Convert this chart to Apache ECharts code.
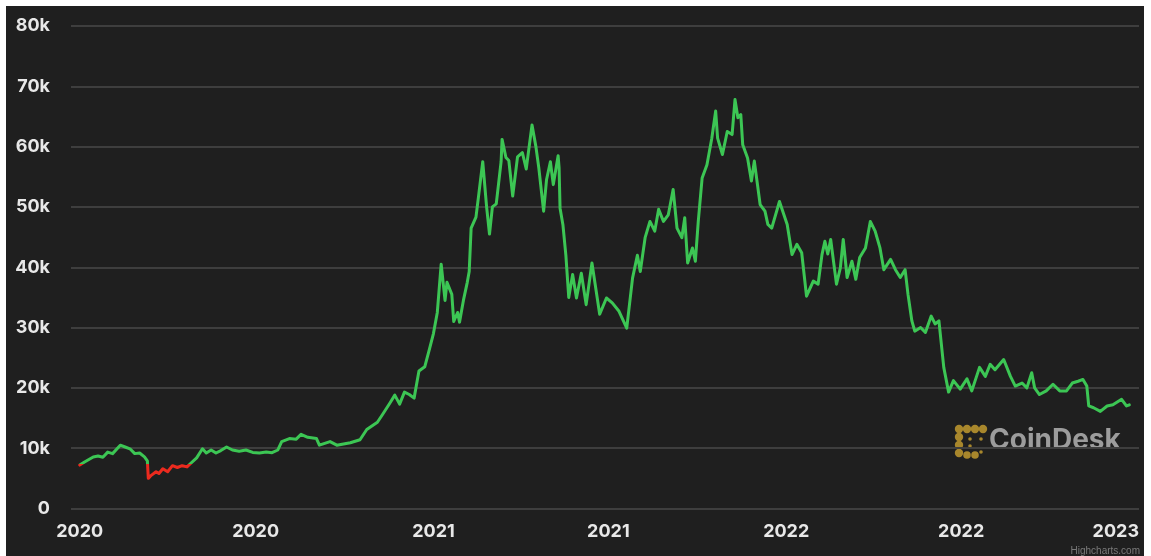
<!DOCTYPE html>
<html>
<head>
<meta charset="utf-8">
<script src="https://cdn.jsdelivr.net/npm/echarts@6/dist/echarts.min.js"></script>
<style>
  html, body { margin: 0; padding: 0; background: #ffffff; width: 1151px; height: 556px; overflow: hidden; }
  #chart { position: absolute; left: 6px; top: 6px; width: 1138px; height: 550px; }
</style>
</head>
<body>
<div id="chart"></div>
<script>
// Approximate BTC price readings (USD)
const dates = [
  '2020-01-01','2020-01-06','2020-01-15','2020-01-20','2020-01-25','2020-01-30','2020-02-04','2020-02-12','2020-02-17','2020-02-22',
  '2020-02-27','2020-03-03','2020-03-08','2020-03-11','2020-03-12','2020-03-15','2020-03-20','2020-03-23','2020-03-27','2020-04-01',
  '2020-04-06','2020-04-11','2020-04-16','2020-04-21','2020-04-25','2020-05-01','2020-05-07','2020-05-11','2020-05-16','2020-05-21',
  '2020-05-26','2020-06-01','2020-06-07','2020-06-14','2020-06-21','2020-06-28','2020-07-05','2020-07-12','2020-07-18','2020-07-24',
  '2020-07-28','2020-08-05','2020-08-12','2020-08-17','2020-08-24','2020-09-02','2020-09-05','2020-09-16','2020-09-23','2020-10-07',
  '2020-10-17','2020-10-24','2020-11-04','2020-11-09','2020-11-17','2020-11-22','2020-11-27','2020-12-02','2020-12-07','2020-12-12',
  '2020-12-17','2020-12-23','2020-12-28','2021-01-01','2021-01-05','2021-01-09','2021-01-13','2021-01-15','2021-01-20','2021-01-22',
  '2021-01-26','2021-01-28','2021-02-01','2021-02-05','2021-02-07','2021-02-09','2021-02-14','2021-02-17','2021-02-21','2021-02-25',
  '2021-02-28','2021-03-03','2021-03-07','2021-03-12','2021-03-13','2021-03-17','2021-03-20','2021-03-24','2021-03-29','2021-04-03',
  '2021-04-07','2021-04-13','2021-04-17','2021-04-20','2021-04-25','2021-04-28','2021-05-02','2021-05-05','2021-05-10','2021-05-11',
  '2021-05-12','2021-05-15','2021-05-18','2021-05-21','2021-05-25','2021-05-29','2021-06-03','2021-06-08','2021-06-14','2021-06-22',
  '2021-06-29','2021-07-05','2021-07-12','2021-07-20','2021-07-26','2021-07-31','2021-08-03','2021-08-08','2021-08-13','2021-08-18',
  '2021-08-22','2021-08-27','2021-09-01','2021-09-06','2021-09-10','2021-09-15','2021-09-18','2021-09-21','2021-09-26','2021-09-29',
  '2021-10-02','2021-10-06','2021-10-11','2021-10-16','2021-10-20','2021-10-22','2021-10-27','2021-11-01','2021-11-06','2021-11-09',
  '2021-11-12','2021-11-15','2021-11-17','2021-11-22','2021-11-26','2021-11-29','2021-12-05','2021-12-10','2021-12-13','2021-12-17',
  '2021-12-25','2022-01-02','2022-01-07','2022-01-12','2022-01-17','2022-01-22','2022-01-29','2022-02-03','2022-02-07','2022-02-10',
  '2022-02-13','2022-02-16','2022-02-22','2022-02-26','2022-03-01','2022-03-05','2022-03-10','2022-03-14','2022-03-18','2022-03-24',
  '2022-03-29','2022-04-03','2022-04-08','2022-04-12','2022-04-19','2022-04-24','2022-04-29','2022-05-04','2022-05-07','2022-05-11',
  '2022-05-14','2022-05-20','2022-05-25','2022-05-31','2022-06-04','2022-06-08','2022-06-13','2022-06-18','2022-06-23','2022-06-30',
  '2022-07-07','2022-07-12','2022-07-20','2022-07-26','2022-07-31','2022-08-05','2022-08-14','2022-08-21','2022-08-26','2022-09-02',
  '2022-09-07','2022-09-12','2022-09-15','2022-09-20','2022-09-27','2022-10-04','2022-10-11','2022-10-18','2022-10-24','2022-10-30',
  '2022-11-04','2022-11-08','2022-11-10','2022-11-15','2022-11-22','2022-11-29','2022-12-05','2022-12-14','2022-12-19','2022-12-22'
];
const prices = [
  7200,7700,8550,8700,8500,9350,9100,10500,10200,9900,
  9100,9200,8550,7900,5000,5500,6100,5800,6600,6100,
  7100,6800,7100,6900,7500,8400,9900,9200,9700,9200,
  9600,10200,9700,9500,9700,9300,9200,9350,9250,9700,
  11100,11600,11500,12300,11800,11600,10500,11100,10500,10900,
  11400,13100,14300,15500,17500,18800,17300,19300,18900,18300,
  22800,23500,26500,29000,32500,40500,34500,37500,35500,31000,
  32500,30900,34500,37500,39300,46500,48300,52200,57500,50000,
  45500,50000,50500,57500,61200,58200,57700,51800,58300,59000,
  56300,63600,60000,56500,49300,54500,57500,53700,58500,56500,
  49800,47000,42000,35000,38800,34900,39000,33800,40700,32200,
  34900,34100,32700,29900,38200,42000,39300,44900,47600,46000,
  49600,47600,48700,52900,46500,44900,48200,40700,43200,41000,
  47600,54800,57000,61400,65900,61400,58700,62500,62000,67800,
  64800,65300,60300,58100,54300,57600,50400,49300,47100,46500,
  50900,47100,42100,43800,42400,35200,37700,37200,42100,44300,
  42200,44600,37200,39900,44600,38300,41000,38000,41600,43200,
  47600,46000,43200,39600,41300,39600,38300,39600,35500,31100,
  29400,30000,29200,31900,30600,31100,23400,19300,21200,19800,
  21500,19500,23400,21900,23900,23000,24700,21900,20300,20800,
  20000,22500,20000,18900,19500,20600,19500,19500,20800,21100,
  21400,20300,17000,16700,16100,17000,17200,18100,17000,17200
];
const tickDates = ['2020-01-01','2020-07-01','2021-01-01','2021-07-01','2022-01-01','2022-07-01','2023-01-01'];
const axisStart = '2019-12-23';
const axisEnd = '2023-01-01';
const yTicks = { min: 0, max: 80000, interval: 10000 };
const redBelow = 7300;

// dates -> day numbers on a linear value axis
const DAY = 86400000;
const epoch = Date.UTC(2020, 0, 1);
const toDay = s => { const p = s.split('-').map(Number); return Math.round((Date.UTC(p[0], p[1] - 1, p[2]) - epoch) / DAY); };
const dayToYear = d => new Date(epoch + d * DAY).getUTCFullYear();
const series = dates.map((d, i) => [toDay(d), prices[i]]);
const tickDays = tickDates.map(toDay);

const chart = echarts.init(document.getElementById('chart'));
const gold = '#a8872c';
const logoDots = [
  [953, 423, 4.2], [961, 423, 4.2], [969, 423, 4.2], [977, 423, 4.2],
  [953, 431, 4.2], [953, 439, 4.2], [953, 447, 4.2],
  [961, 449, 3.8], [969, 449, 3.8],
  [964, 433, 1.8], [964, 440, 1.8], [975, 433, 1.8], [975, 446, 1.8]
];
chart.setOption({
  animation: false,
  backgroundColor: '#1f1f1f',
  grid: { left: 65, right: 5, top: 20, bottom: 47.5, containLabel: false },
  xAxis: {
    type: 'value',
    min: toDay(axisStart),
    max: toDay(axisEnd),
    axisLine: { show: false },
    axisTick: { show: false },
    splitLine: { show: false },
    axisLabel: {
      customValues: tickDays,
      color: '#e8e8e8',
      fontFamily: 'Inter',
      fontWeight: 700,
      fontSize: 18,
      margin: 14,
      alignMaxLabel: 'right',
      formatter: function (v) { return String(dayToYear(v)); }
    }
  },
  yAxis: {
    type: 'value',
    min: yTicks.min,
    max: yTicks.max,
    interval: yTicks.interval,
    axisLine: { show: false },
    axisTick: { show: false },
    splitLine: { lineStyle: { color: '#3e3e3e', width: 2 } },
    axisLabel: {
      color: '#e8e8e8',
      fontFamily: 'Inter',
      fontWeight: 700,
      fontSize: 18,
      margin: 21,
      formatter: function (v) { return v === 0 ? '0' : (v / 1000) + 'k'; }
    }
  },
  visualMap: {
    show: false,
    type: 'piecewise',
    dimension: 1,
    seriesIndex: 0,
    pieces: [
      { gte: 0, lt: redBelow, color: '#ec2a1e' },
      { gte: redBelow, lte: 100000, color: '#3cc654' }
    ]
  },
  series: [{
    type: 'line',
    data: series,
    showSymbol: false,
    symbol: 'none',
    lineStyle: { width: 3, join: 'round', cap: 'round' }
  }],
  graphic: [
    ...logoDots.map(d => ({
      type: 'circle', silent: true, z: 0,
      shape: { cx: d[0], cy: d[1], r: d[2] },
      style: { fill: gold }
    })),
    {
      type: 'text', silent: true, z: 0,
      left: 983, top: 421,
      style: { text: 'CoinDesk', fill: '#9c9c9c', font: '700 28px Inter' }
    },
    {
      type: 'text', silent: true,
      right: 4, bottom: 0,
      style: { text: 'Highcharts.com', fill: '#7a7a7a', font: '10px "Liberation Sans"' }
    }
  ]
});
</script>
</body>
</html>
